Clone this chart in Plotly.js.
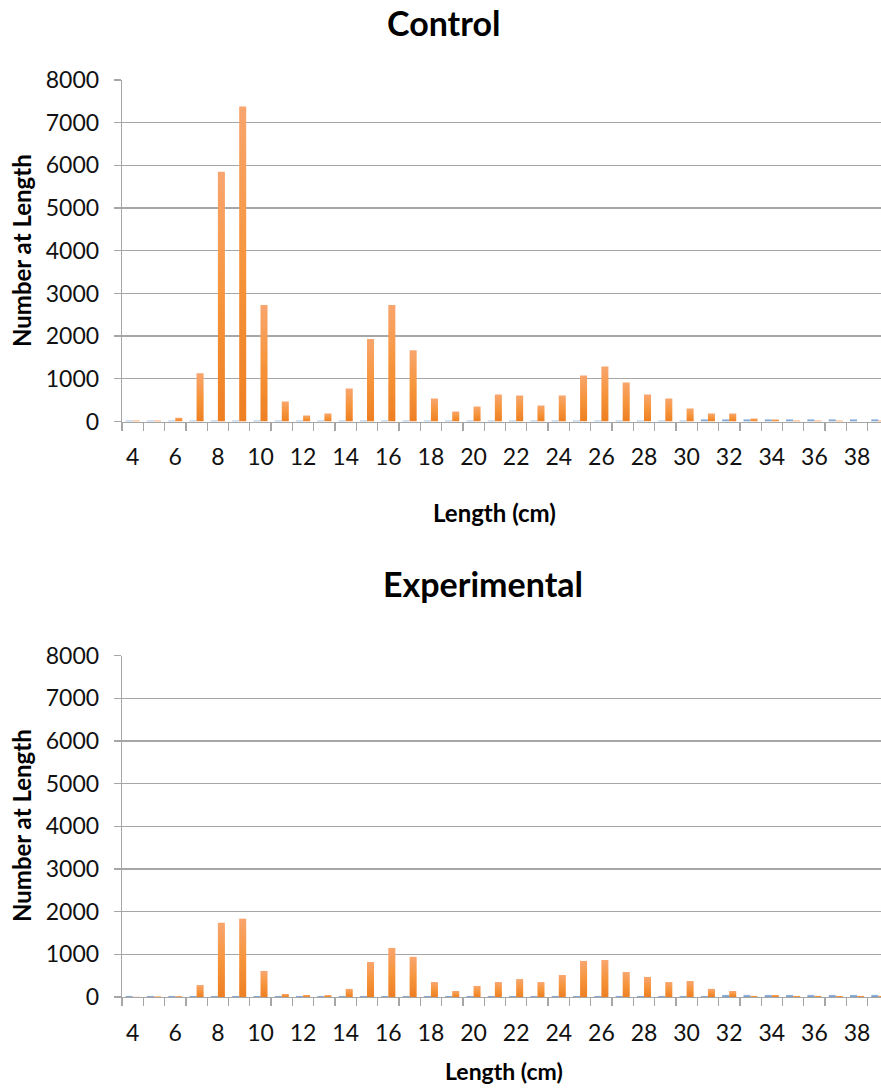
<!DOCTYPE html>
<html>
<head>
<meta charset="utf-8">
<script src="https://cdn.plot.ly/plotly-3.0.1.min.js"></script>
<style>
  html, body { margin: 0; padding: 0; background: #ffffff; overflow: hidden; }
  #chart { width: 890px; height: 1088px; }
</style>
</head>
<body>
<div id="chart"></div>
<script>
// Length classes (cm)
const lengths = [4, 5, 6, 7, 8, 9, 10, 11, 12, 13, 14, 15, 16, 17, 18, 19, 20, 21,
                 22, 23, 24, 25, 26, 27, 28, 29, 30, 31, 32, 33, 34, 35, 36, 37, 38, 39];

// Control: number of fish at each length
const controlSeries1 = [25, 25, 25, 25, 25, 25, 25, 25, 25, 25, 25, 25, 25, 25, 25, 25, 25, 25,
                        25, 25, 25, 25, 25, 25, 25, 25, 25, 50, 50, 50, 50, 50, 50, 50, 50, 50];
const controlSeries2 = [25, 25, 90, 1130, 5850, 7380, 2730, 470, 140, 190, 775, 1930, 2730, 1670, 540, 235, 350, 630,
                        610, 375, 610, 1080, 1290, 915, 630, 540, 305, 190, 190, 70, 47, 25, 25, 25, 0, 25];

// Experimental: number of fish at each length
const experimentalSeries1 = [25, 25, 25, 25, 25, 25, 25, 25, 25, 25, 25, 25, 25, 25, 25, 25, 25, 25,
                             25, 25, 25, 25, 25, 25, 25, 25, 25, 25, 50, 50, 50, 50, 50, 50, 50, 50];
const experimentalSeries2 = [5, 15, 20, 280, 1740, 1835, 610, 70, 47, 45, 190, 820, 1150, 940, 350, 140, 260, 350,
                             420, 350, 515, 845, 867, 585, 470, 350, 375, 190, 140, 25, 47, 25, 25, 25, 25, 25];

const xTickLabels = [4, 6, 8, 10, 12, 14, 16, 18, 20, 22, 24, 26, 28, 30, 32, 34, 36, 38];
const yTickValues = [0, 1000, 2000, 3000, 4000, 5000, 6000, 7000, 8000];

const W = 890, H = 1088, LEFT = 122, RIGHT = 1;
const plotW = W - LEFT - RIGHT;
const px2x = px => (px - LEFT) / plotW;
const px2y = py => 1 - py / H;

const FONT = 'Lato, "Open Sans", sans-serif';
const GRID = '#a6a6a6';
const BLUE = '#7fa6d0';
const ORANGE = '#f39137';

const boundaries = lengths.map(v => v - 0.5).concat([lengths[lengths.length - 1] + 0.5]);

function xAxis(anchor) {
  return {
    anchor: anchor,
    range: [3.5, 39.5],
    tickmode: 'array',
    tickvals: xTickLabels,
    ticktext: xTickLabels.map(String),
    ticks: '',
    ticklabelstandoff: 15,
    tickfont: { family: FONT, size: 23, color: '#111111' },
    showgrid: false,
    zeroline: false,
    showline: true,
    linecolor: GRID,
    linewidth: 1.3,
    minor: {
      tickmode: 'array',
      tickvals: boundaries,
      ticks: 'outside',
      ticklen: 8,
      tickwidth: 1.3,
      tickcolor: GRID,
      showgrid: false
    },
    fixedrange: true
  };
}

function yAxis(anchor, domain) {
  return {
    anchor: anchor,
    domain: domain,
    range: [0, 8000],
    tickmode: 'array',
    tickvals: yTickValues,
    ticks: 'outside',
    ticklen: 7,
    tickwidth: 1.3,
    tickcolor: GRID,
    ticklabelstandoff: 10,
    tickfont: { family: FONT, size: 23, color: '#111111' },
    showgrid: true,
    gridcolor: GRID,
    gridwidth: 1.3,
    zeroline: false,
    showline: true,
    linecolor: GRID,
    linewidth: 1.3,
    fixedrange: true
  };
}

function barTrace(values, color, xa, ya, name) {
  return {
    type: 'bar',
    name: name,
    x: lengths,
    y: values,
    xaxis: xa,
    yaxis: ya,
    marker: { color: color, line: { width: 0 } },
    hoverinfo: 'x+y',
    showlegend: false
  };
}

const data = [
  barTrace(controlSeries1, BLUE, 'x', 'y', 'Control 1'),
  barTrace(controlSeries2, ORANGE, 'x', 'y', 'Control 2'),
  barTrace(experimentalSeries1, BLUE, 'x2', 'y2', 'Experimental 1'),
  barTrace(experimentalSeries2, ORANGE, 'x2', 'y2', 'Experimental 2')
];

function label(text, px, py, size, angle) {
  return {
    text: '<b>' + text + '</b>',
    xref: 'paper', yref: 'paper',
    x: px2x(px), y: px2y(py),
    xanchor: 'center', yanchor: 'middle',
    showarrow: false,
    textangle: angle || 0,
    font: { family: FONT, size: size, color: '#000000' }
  };
}

const layout = {
  width: W,
  height: H,
  margin: { l: LEFT, r: RIGHT, t: 0, b: 0, pad: 0 },
  paper_bgcolor: '#ffffff',
  plot_bgcolor: '#ffffff',
  barmode: 'group',
  bargap: 0.34,
  bargroupgap: 0,
  showlegend: false,
  xaxis: xAxis('y'),
  yaxis: yAxis('x', [px2y(421.5), px2y(80)]),
  xaxis2: xAxis('y2'),
  yaxis2: yAxis('x2', [px2y(997), px2y(655.5)]),
  annotations: [
    label('Control', 443, 22, 34),
    label('Experimental', 483, 583, 34),
    label('Length (cm)', 494, 513, 24),
    label('Length (cm)', 504, 1071, 23),
    label('Number at Length', 21, 251, 24, -90),
    label('Number at Length', 21, 826, 24, -90)
  ]
};

Plotly.newPlot('chart', data, layout, { displayModeBar: false, staticPlot: true }).then(gd => {
  // Vertical shading on every bar: lighter at the top, deeper at the base
  const svg = gd.querySelector('.main-svg');
  const ns = 'http://www.w3.org/2000/svg';
  let defs = svg.querySelector('defs');
  if (!defs) { defs = document.createElementNS(ns, 'defs'); svg.insertBefore(defs, svg.firstChild); }
  function addGradient(id, top, mid, bottom) {
    const g = document.createElementNS(ns, 'linearGradient');
    g.setAttribute('id', id);
    g.setAttribute('x1', '0'); g.setAttribute('y1', '0');
    g.setAttribute('x2', '0'); g.setAttribute('y2', '1');
    [[0, top], [0.5, mid], [1, bottom]].forEach(([o, c]) => {
      const s = document.createElementNS(ns, 'stop');
      s.setAttribute('offset', o);
      s.setAttribute('stop-color', c);
      g.appendChild(s);
    });
    defs.appendChild(g);
  }
  addGradient('barOrange', '#f8a56e', '#f6953c', '#ee7f22');
  addGradient('barBlue', '#a3c0e2', '#87abd4', '#6f96c6');
  gd.querySelectorAll('.barlayer .trace').forEach((tr, i) => {
    const id = (i % 2 === 0) ? 'barBlue' : 'barOrange';
    tr.querySelectorAll('.point path').forEach(p => { p.style.fill = 'url(#' + id + ')'; });
  });
});
</script>
</body>
</html>
